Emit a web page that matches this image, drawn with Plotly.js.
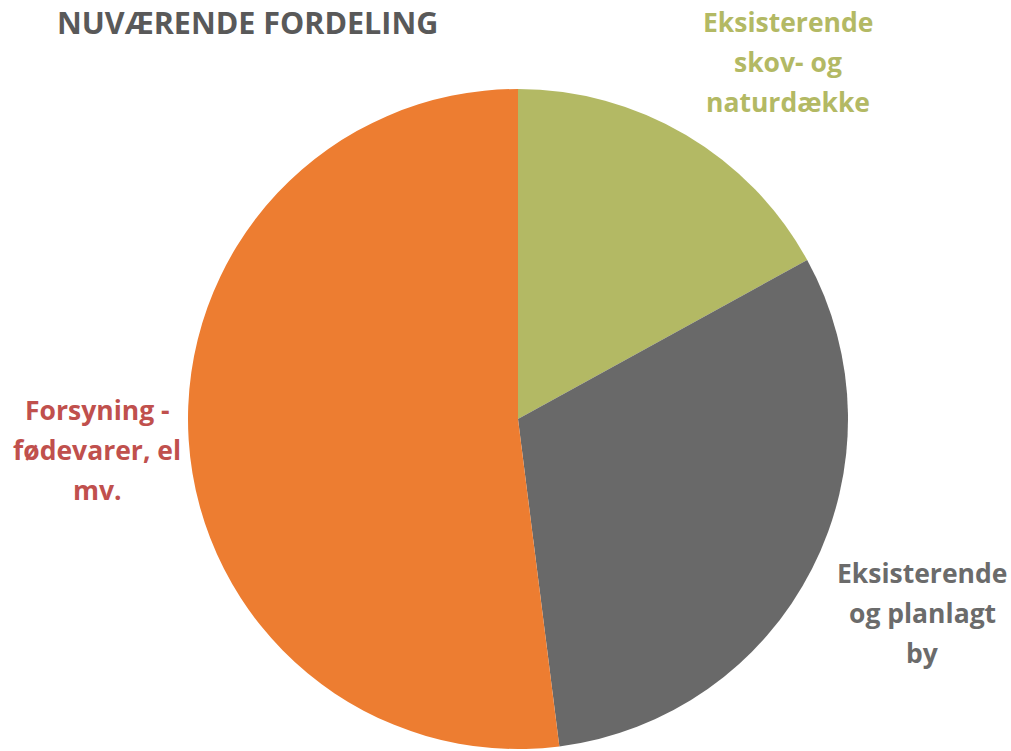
<!DOCTYPE html>
<html><head><meta charset="utf-8">
<script src="https://cdn.plot.ly/plotly-3.0.1.min.js"></script>
<style>html,body{margin:0;padding:0;background:#fff}#chart{width:1011px;height:751px}</style>
</head><body><div id="chart"></div>
<script>
const categories = ["Eksisterende skov- og naturdække", "Eksisterende og planlagt by", "Forsyning - fødevarer, el mv."];
const values = [17, 31, 52];
const sliceColors = ["#B3B964", "#696969", "#ED7D31"];
const labelLines = [
  ["Eksisterende", "skov- og", "naturdække"],
  ["Eksisterende", "og planlagt", "by"],
  ["Forsyning -", "fødevarer, el", "mv."]
];
const labelColors = ["#B3B964", "#6B6B6B", "#C0504D"];
const titleText = "NUVÆRENDE FORDELING";

const W = 1011, H = 751;
const cx = 518, cy = 419, r = 330;
const labelPos = [[788, 22], [922, 573], [97, 410]];
const lineGap = 40;

const annotations = [];
labelLines.forEach((lines, i) => {
  lines.forEach((t, j) => {
    annotations.push({
      text: "<b>" + t + "</b>", showarrow: false,
      xref: "paper", yref: "paper",
      x: labelPos[i][0] / W, y: 1 - (labelPos[i][1] + j * lineGap) / H,
      xanchor: "center", yanchor: "middle",
      font: {family: "Open Sans", size: 26.5, color: labelColors[i]}
    });
  });
});
annotations.push({
  text: "<b>" + titleText + "</b>", showarrow: false,
  xref: "paper", yref: "paper", x: 247 / W, y: 1,
  xanchor: "center", yanchor: "top", borderpad: 0,
  font: {family: "Open Sans", size: 30.5, color: "#595959"}
});

Plotly.newPlot("chart", [{
  type: "pie", labels: categories, values: values, sort: false,
  direction: "clockwise", rotation: 0,
  marker: {colors: sliceColors, line: {color: "#ffffff", width: 0}},
  textinfo: "none", hoverinfo: "label+value",
  domain: {x: [(cx - r) / W, (cx + r) / W], y: [1 - (cy + r) / H, 1 - (cy - r) / H]}
}], {
  width: W, height: H, margin: {l: 0, r: 0, t: 0, b: 0},
  showlegend: false, paper_bgcolor: "#ffffff",
  annotations: annotations
}, {displayModeBar: false, staticPlot: true});
</script></body></html>
